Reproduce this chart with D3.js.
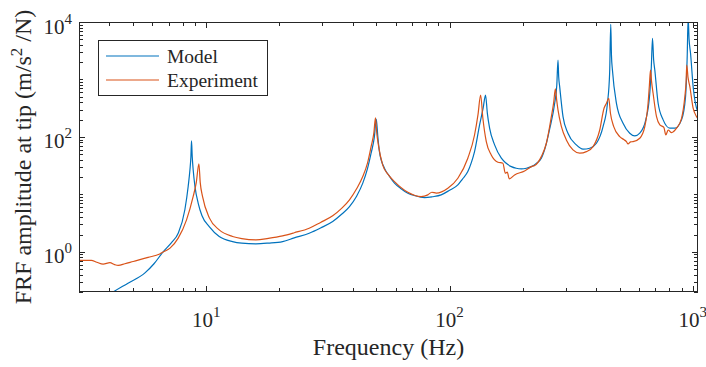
<!DOCTYPE html>
<html>
<head>
<meta charset="utf-8">
<script src="https://cdn.jsdelivr.net/npm/d3@7"></script>
<style>
body { margin: 0; background: #fff; }
svg { display: block; }
text { font-family: "Liberation Serif", "Times New Roman", serif; fill: #262626; }
</style>
</head>
<body>
<svg id="chart" width="706" height="367"></svg>
<script>
// [frequency Hz, amplitude]
const modelPoints = [
    [3.9, 0.17], [4.14, 0.2], [4.77, 0.285], [5.6, 0.43], [6.1, 0.62], [6.65, 1.0], [7.2, 1.45],
    [7.67, 2.1], [8.17, 5.4],
    [8.43, 13.7], [8.57, 26.6], [8.65, 45], [8.70, 85], [8.76, 45], [8.84, 26.6], [8.99, 13.7],
    [9.27, 7.0], [9.6, 4.3], [10.29, 2.75], [11.31, 1.85], [12.83, 1.51], [14, 1.42], [16.0, 1.38],
    [18, 1.42], [20.6, 1.51], [23, 1.75], [26.5, 2.11], [29.5, 2.6], [33.1, 3.37], [36, 4.5],
    [38.8, 6.13], [41.5, 9.3], [44.0, 15.7], [46, 28], [47.6, 52], [49.1, 100], [50.0, 205],
    [50.7, 105], [51.5, 55.5], [54.0, 28.6], [56.5, 21], [59.4, 15.7], [63, 12.7], [67.4, 10.5],
    [72, 9.5], [78.9, 8.8], [85, 9.1], [92.4, 9.8], [100, 11.8],
    [108.2, 14.6], [113, 18.5], [118.9, 24.9], [123, 36], [126.7, 55.5], [132.9, 162], [137.5, 320],
    [140.6, 537], [143, 260],
    [146.1, 142], [153.2, 72.6], [163.3, 42.6], [170, 35.5], [179.5, 30.4], [188, 28.5],
    [197.3, 27.8], [207, 28.5], [216.9, 30.4], [228, 35],
    [238.4, 42.6], [248, 68], [257.9, 137], [270.5, 385], [276, 800], [279.1, 2183], [281, 1100],
    [283.6, 750],
    [292.7, 225], [306.7, 116], [332.1, 72.6], [353.7, 61.1], [376.9, 63.6], [401.6, 77.6],
    [427.5, 151], [445.7, 385], [455, 1300], [459.8, 9120], [463, 2600], [467.2, 1462], [485.3, 385],
    [516.6, 173], [550.4, 116], [577.2, 104], [605.2, 116], [640.6, 198], [665.3, 575], [675, 1650],
    [682.7, 5210], [690, 2200], [697.7, 1462], [720.0, 385], [755.0, 198], [804.4, 142], [843.3, 142],
    [898.6, 198], [933.3, 502], [948, 2500], [956.5, 12000], [965, 5000], [978.4, 2857],
    [1002.8, 750], [1035.6, 316], [1061.4, 258],
];

const experimentPoints = [
    [3.0, 0.71], [3.37, 0.71], [3.55, 0.66], [3.77, 0.61], [4.02, 0.65], [4.2, 0.6], [4.35, 0.58],
    [4.63, 0.62], [5.01, 0.68], [5.77, 0.80], [6.44, 0.92], [6.65, 0.99], [7.10, 1.16], [7.67, 1.73],
    [8.30, 3.6], [8.84, 9.2], [9.1, 16], [9.33, 34], [9.45, 16], [9.66, 9.16], [10.3, 3.9],
    [11.31, 2.41], [12.83, 1.85], [14, 1.7], [16.02, 1.62], [18, 1.72], [20.6, 1.9], [23, 2.15],
    [26.5, 2.58], [29.5, 3.25], [33.1, 4.23], [36, 5.7], [38.8, 8.02], [41.5, 12.5],
    [44.0, 20.4], [46, 35], [47.6, 67.8], [48.9, 120], [49.6, 215], [50.3, 110], [51.0, 72.6],
    [53.1, 32.6], [56, 22],
    [59.4, 16.7], [67.4, 10.9], [76.4, 9.16], [81.4, 9.8], [84.6, 10.9], [88.2, 10.5], [98.4, 12.8],
    [108.2, 19.1], [118.9, 42.6], [126.7, 108], [131, 250], [134.2, 537], [137.1, 211], [141.6, 82.8],
    [148.4, 48.6], [158.1, 36.3], [165.7, 34.9], [169.5, 23.4], [172.7, 24.3], [176.1, 18.6],
    [185.1, 21.8], [203.5, 25.6], [210, 27.8], [216.9, 30.4], [223.8, 31.7], [238.4, 45.4],
    [250, 77.6], [262.1, 225], [268, 400], [272.3, 684], [276, 420], [279.1, 295], [288.3, 151],
    [302.1, 88.7], [321.6, 59.4], [342.8, 52.1], [365.3, 55.5], [388.9, 67.8], [414.3, 132],
    [431.5, 316], [441.5, 385], [451.2, 471], [458.5, 258], [473.0, 151], [500.7, 101], [520, 90],
    [533.5, 82.8], [541.6, 75.5], [555, 82], [568.0, 82.8], [605.2, 94.9], [634.6, 151], [654.7, 385],
    [663, 800], [669.8, 1462], [677, 900], [686.5, 575], [709.1, 225], [731.7, 162], [760.0, 147],
    [774.5, 108], [791.6, 132], [817.4, 119], [857.0, 142], [898.6, 211], [927.1, 502], [938, 900],
    [944, 1786], [955, 1100], [972.0, 750], [1002.8, 316], [1035.6, 225], [1061.4, 198],
];

const xMajorTicks = [10, 100, 1000];
const yMajorTicks = [1, 100, 10000];
const seriesNames = ['Model', 'Experiment'];
const seriesColors = ['#0072BD', '#D95319'];

const AXIS_COLOR = '#262626';
const box = { left: 79, right: 698, top: 22, bottom: 292 };

const svg = d3.select('#chart');

const x = d3.scaleLog().domain([3, 1050]).range([box.left, box.right]);
const y = d3.scaleLog().domain([0.2, 10000]).range([box.bottom, box.top]);

svg.append('defs').append('clipPath')
    .attr('id', 'plot-clip')
    .append('rect')
    .attr('x', box.left)
    .attr('y', box.top)
    .attr('width', box.right - box.left)
    .attr('height', box.bottom - box.top);

// ticks (inward, on all four sides like a boxed matlab axes)
const isMajor = (list) => (v) => list.some((m) => Math.abs(m - v) / m < 1e-9);
const xTicks = x.ticks();
const yTicks = y.ticks();
const tickG = svg.append('g').attr('stroke', AXIS_COLOR).attr('stroke-width', 1);

xTicks.forEach((t) => {
    const len = isMajor(xMajorTicks)(t) ? 6 : 4;
    const px = Math.round(x(t)) + 0.5;
    tickG.append('line').attr('x1', px).attr('x2', px).attr('y1', box.bottom).attr('y2', box.bottom - len);
    tickG.append('line').attr('x1', px).attr('x2', px).attr('y1', box.top).attr('y2', box.top + len);
});
yTicks.forEach((t) => {
    const len = isMajor(yMajorTicks)(t) ? 6 : 4;
    const py = Math.round(y(t)) + 0.5;
    tickG.append('line').attr('x1', box.left).attr('x2', box.left + len).attr('y1', py).attr('y2', py);
    tickG.append('line').attr('x1', box.right).attr('x2', box.right - len).attr('y1', py).attr('y2', py);
});

// series
const line = d3.line()
    .x((d) => x(d[0]))
    .y((d) => y(d[1]))
    .curve(d3.curveMonotoneX);

const plot = svg.append('g').attr('clip-path', 'url(#plot-clip)');
[modelPoints, experimentPoints].forEach((pts, i) => {
    plot.append('path')
        .datum(pts)
        .attr('fill', 'none')
        .attr('stroke', seriesColors[i])
        .attr('stroke-width', 1.2)
        .attr('stroke-linejoin', 'round')
        .attr('d', line);
});

// axes box
svg.append('rect')
    .attr('x', box.left + 0.5)
    .attr('y', box.top + 0.5)
    .attr('width', box.right - box.left - 1)
    .attr('height', box.bottom - box.top - 1)
    .attr('fill', 'none')
    .attr('stroke', AXIS_COLOR)
    .attr('stroke-width', 1);

// tick labels as 10^k
function powerLabel(g, value, xPos, yPos, anchor) {
    const t = g.append('text')
        .attr('x', xPos)
        .attr('y', yPos)
        .attr('text-anchor', anchor)
        .style('font-size', '21px');
    t.append('tspan').text('10');
    t.append('tspan')
        .attr('dy', -10)
        .style('font-size', '15px')
        .text(Math.round(Math.log10(value)));
}

const labelG = svg.append('g');
xMajorTicks.forEach((t) => powerLabel(labelG, t, x(t), 327, 'middle'));
yMajorTicks.forEach((t) => powerLabel(labelG, t, 72, y(t) + 11.5, 'end'));

svg.append('text')
    .attr('x', (box.left + box.right) / 2)
    .attr('y', 355)
    .attr('text-anchor', 'middle')
    .style('font-size', '24px')
    .text('Frequency (Hz)');

const yLabel = svg.append('text')
    .attr('transform', `translate(31,${(box.top + box.bottom) / 2}) rotate(-90)`)
    .attr('text-anchor', 'middle')
    .style('font-size', '24px');
yLabel.append('tspan').text('FRF amplitude at tip (m/s');
yLabel.append('tspan').attr('dy', -9).style('font-size', '17px').text('2');
yLabel.append('tspan').attr('dy', 9).text(' /N)');

// legend
const legend = svg.append('g');
legend.append('rect')
    .attr('x', 98.5)
    .attr('y', 40.5)
    .attr('width', 169)
    .attr('height', 55)
    .attr('fill', '#fff')
    .attr('stroke', AXIS_COLOR)
    .attr('stroke-width', 1);

seriesNames.forEach((name, i) => {
    const ly = 56 + i * 24;
    legend.append('line')
        .attr('x1', 106).attr('x2', 159)
        .attr('y1', ly).attr('y2', ly)
        .attr('stroke', seriesColors[i])
        .attr('stroke-width', 1.2);
    legend.append('text')
        .attr('x', 167)
        .attr('y', ly + 6.5)
        .style('font-size', '19.5px')
        .text(name);
});
</script>
</body>
</html>
